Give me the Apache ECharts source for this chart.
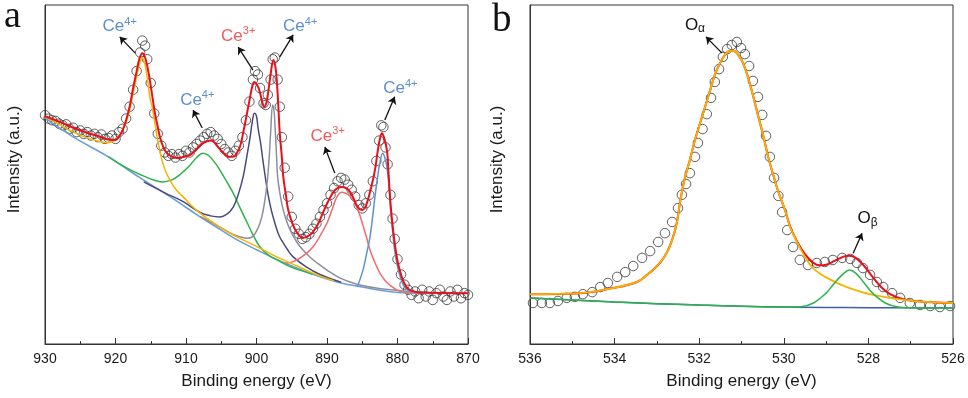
<!DOCTYPE html>
<html>
<head>
<meta charset="utf-8">
<script src="https://cdn.jsdelivr.net/npm/echarts@6/dist/echarts.min.js"></script>
<style>html,body{margin:0;padding:0;background:#fff}#chart{width:968px;height:398px}</style>
</head>
<body>
<div id="chart"></div>
<script>
// ---- panel a : Ce 3d ----
var ceDots = [
  [930,67.5],[929.5,66.5],[929,66.0],[928.5,65.8],[928,65.0],[927.5,64.5],[927,64.8],[926.5,63.5],[926,63.8],[925.5,62.5],
  [925,63.0],[924.5,62.0],[924,62.5],[923.5,61.5],[923,62.0],[922.5,61.0],[922,61.8],[921.5,60.5],[921,60.8],[920.5,61.5],
  [920,60.5],[919.5,62.5],[919,63.5],[918.5,66.5],[918,70.0],[917.5,75.0],[917,80.5],[916.5,86.0],[916.2,89.5],[915.8,88.0],
  [915.5,84.0],[915,77.0],[914.5,68.0],[914,62.0],[913.5,58.5],[913,56.5],[912.5,55.5],[912,56.0],[911.5,55.0],[911,56.0],
  [910.5,55.5],[910,57.0],[909.5,56.5],[909,58.0],[908.5,59.0],[908,60.0],[907.5,61.0],[907,62.0],[906.5,62.5],[906,61.5],
  [905.5,60.5],[905,59.0],[904.5,57.5],[904,56.5],[903.5,55.5],[903,57.0],[902.5,58.5],[902,61.0],[901.5,66.0],[901,71.5],
  [900.5,78.0],[900.2,80.5],[899.8,79.5],[899.5,75.5],[899,71.0],[898.7,70.5],[898.4,73.5],[898,78.0],[897.7,84.0],[897.4,84.5],
  [897,78.0],[896.7,70.0],[896.4,61.0],[896,52.0],[895.5,43.5],[895,37.5],[894.5,34.0],[894,32.5],[893.5,31.0],[893,31.5],
  [892.5,32.5],[892,34.0],[891.5,35.5],[891,37.5],[890.5,39.5],[890,41.5],[889.5,44.0],[889,46.0],[888.5,48.0],[888,49.0],
  [887.5,48.5],[887,47.0],[886.5,45.5],[886,43.5],[885.5,41.0],[885,40.0],[884.5,41.5],[884,44.0],[883.5,48.0],[883,54.0],
  [882.6,60.0],[882.3,64.5],[882,64.0],[881.7,58.0],[881.4,53.0],[881,44.0],[880.7,37.0],[880.4,31.0],[880,25.0],[879.5,20.5],
  [879,17.5],[878.5,16.0],[878,14.5],[877.5,15.5],[877,13.5],[876.5,16.0],[876,14.0],[875.5,15.5],[875,13.0],[874.5,15.0],
  [874,16.0],[873.5,14.0],[873,13.0],[872.5,15.5],[872,14.0],[871.5,16.0],[871,13.5],[870.5,15.0],[870,14.5]
];
var ceEnvelope = [
  [930,67.2],[928,65.6],[926,63.8],[924,62.3],[922,61.0],[921,60.3],[920,60.2],[919.5,61.2],[919,63.0],[918.5,66.0],
  [918,70.0],[917.5,75.5],[917,80.5],[916.6,84.2],[916.2,85.8],[915.8,84.5],[915.4,81.0],[915.1,77.5],[914.7,72.0],[914.4,68.0],
  [914,64.0],[913.7,61.1],[913.2,58.0],[912.7,56.3],[912,55.3],[911.3,54.9],[910.3,55.2],[909.4,55.8],[908.5,57.5],[907.8,59.0],
  [907,59.8],[906.4,60.0],[905.8,59.0],[905.2,57.5],[904.5,56.0],[903.8,55.2],[903.2,55.3],[902.8,56.3],[902.3,58.5],[901.9,62.2],
  [901.4,67.5],[900.9,72.9],[900.6,76.0],[900.3,77.3],[899.9,76.3],[899.6,74.9],[899.2,71.5],[898.9,69.9],[898.6,71.2],[898.3,74.9],
  [898,79.5],[897.6,83.8],[897.3,81.5],[897.1,77.0],[896.9,70.0],[896.7,62.2],[896.4,55.0],[896.2,49.3],[895.8,43.5],[895.5,39.5],
  [894.9,35.5],[894.3,33.0],[893.4,31.3],[892.7,31.8],[892,33.0],[891.3,35.3],[890.6,38.6],[889.9,41.8],[889.1,44.8],[888.5,46.0],
  [887.9,46.3],[887.3,46.0],[886.7,44.8],[886.2,42.8],[885.7,40.6],[885,39.5],[884.6,40.3],[884.2,42.5],[883.7,46.5],[883.2,51.3],
  [882.8,57.0],[882.5,60.5],[882.2,62.2],[881.9,60.8],[881.5,57.2],[881.3,51.5],[881.1,44.5],[880.8,37.0],[880.4,29.8],[880,24.5],
  [879.4,19.8],[878.8,17.0],[878.2,15.9],[876.8,15.2],[870,15.0]
];
var ceBackground = [
  [930,66.7],[926,61.1],[921,55.2],[916.5,49.0],[912,43.1],[908,37.5],[905,33.6],[903,31.0],[900,27.8],[896,23.9],
  [892,20.6],[888,18.0],[885,16.8],[882,15.7],[879,15.1],[875,15.0],[870,15.0]
];
var ce916 = [
  [930,67.0],[928,64.8],[926,62.5],[924,60.8],[922,59.6],[921.2,59.4],[920.3,59.8],[919.6,61.1],[918.9,63.5],[918.4,66.1],
  [917.9,69.8],[917.5,74.0],[917.1,78.0],[916.8,80.8],[916.5,83.2],[916.2,84.4],[915.8,82.3],[915.4,77.0],[915.1,72.5],[914.8,69.9],
  [914.4,65.0],[914.1,61.1],[913.7,57.0],[913.3,53.4],[912.8,50.5],[912.3,48.4],[911.4,45.5],[910.4,43.4],[909.2,40.8],[908,38.6],
  [906.5,36.3],[905.2,34.5],[903,31.8],[900,28.8],[898,26.6],[896.2,24.8],[894,22.8],[892,20.9],[889,18.6]
];
var ce907 = [
  [921,55.3],[918.5,52.0],[916.5,50.0],[914.5,48.3],[913.3,47.8],[912,48.4],[910.9,49.9],[909.5,52.6],[908.5,55.0],[907.6,56.3],
  [906.8,55.6],[905.8,53.2],[905.2,51.3],[904.2,47.8],[903.3,44.5],[902.3,40.0],[901.3,35.7],[900.4,31.8],[899.5,28.6],[898.3,26.2],
  [897.1,24.8],[895,22.6],[892,20.6]
];
var ce900 = [
  [916,47.8],[913,44.6],[910.4,42.0],[908,38.8],[906.5,37.8],[905.2,37.5],[904.2,38.3],[903.3,40.4],[902.6,44.0],[901.9,49.3],
  [901.4,55.0],[900.9,61.1],[900.6,65.5],[900.3,68.1],[900,67.2],[899.8,64.0],[899.4,59.0],[899.1,54.3],[898.7,48.5],[898.4,44.5],
  [897.9,39.5],[897.4,35.7],[896.8,32.0],[896.2,29.8],[895.5,27.5],[894.8,25.7],[893,22.8],[891,20.5],[888,18.2]
];
var ce897 = [
  [908,37.6],[905.2,34.5],[903.5,32.5],[902.3,31.6],[901.2,31.2],[900.4,32.0],[899.5,35.7],[899,40.0],[898.5,47.5],[898.2,55.0],
  [898,62.2],[897.7,70.5],[897.5,68.5],[897.4,65.2],[897.2,57.5],[897,49.3],[896.6,43.5],[896.2,39.5],[895.6,35.5],[895,32.7],
  [894.2,29.8],[893.4,27.7],[892.4,25.6],[891.4,23.9],[890,21.8],[888.2,19.5],[886,17.8],[883,16.5],[880,15.8],[876,15.3]
];
var ce888 = [
  [896,24.0],[895.7,23.9],[894.8,24.3],[893.8,25.4],[892.9,26.8],[892,28.6],[891,31.8],[890,35.7],[889.3,39.5],[888.6,43.4],
  [887.9,44.8],[887.1,44.2],[886.3,42.5],[885.6,39.5],[885,35.7],[884.4,31.5],[883.9,27.7],[883.2,24.0],[882.5,20.9],[881.8,18.8],
  [881.1,17.4],[880.2,16.1],[879.2,15.3],[877,15.0]
];
var ce882 = [
  [885.7,16.8],[884.9,21.8],[884.4,26.5],[883.9,31.6],[883.5,38.0],[883.2,43.4],[882.8,49.5],[882.5,53.4],[882.1,56.3],[881.8,55.0],
  [881.5,52.2],[881.2,46.5],[881,40.4],[880.7,33.5],[880.4,27.7],[880,22.8],[879.6,19.8],[878.9,16.5],[877.8,15.3],[876.5,15.0]
];
// tag position, arrow tail, arrow head, charge
var ceTags = [
  [919.4,93.8, 917.2,85.8, 919.4,90.6, '4+'],
  [908.4,72.0, 907.7,63.7, 909.0,69.0, '4+'],
  [902.6,90.9, 900.5,80.8, 902.6,87.6, '3+'],
  [893.8,93.8, 896.7,84.7, 894.8,91.2, '4+'],
  [889.9,61.4, 888.9,50.4, 890.3,58.1, '3+'],
  [879.6,75.5, 881.8,66.1, 880.4,72.9, '4+']
];

// ---- panel b : O 1s ----
var oDots = [
  [535.93,12.1],[535.72,12.1],[535.53,12.1],[535.34,12.7],[535.13,13.6],[534.94,13.9],[534.75,14.7],[534.53,15.3],[534.34,16.8],[534.16,18.0],
  [533.94,19.8],[533.75,21.2],[533.56,23.0],[533.35,25.4],[533.16,27.4],[532.97,30.1],[532.81,32.7],[532.64,36.0],[532.5,40.1],[532.41,44.0],
  [532.31,47.2],[532.22,50.4],[532.1,55.2],[532.03,59.3],[531.92,63.4],[531.82,67.8],[531.72,72.6],[531.63,77.3],[531.53,81.1],[531.44,84.7],
  [531.34,87.0],[531.23,88.2],[531.11,89.1],[531.01,87.3],[530.92,85.5],[530.82,82.0],[530.73,77.6],[530.61,72.9],[530.51,67.6],[530.42,61.4],
  [530.33,55.2],[530.23,49.0],[530.13,43.7],[530.04,38.9],[529.92,33.6],[529.78,28.6],[529.62,24.8],[529.43,23.3],[529.22,23.9],[529.03,24.2],
  [528.84,24.8],[528.62,25.4],[528.43,25.1],[528.27,23.9],[528.13,22.4],[527.96,20.4],[527.8,18.3],[527.65,16.8],[527.44,15.0],[527.25,13.6],
  [527.02,12.1],[526.78,11.5],[526.54,11.2],[526.31,10.9],[526.07,11.2]
];
var oAlpha = [
  [536,14.7],[534.82,15.0],[534.04,16.5],[533.47,18.3],[533.23,20.4],[532.93,23.9],[532.76,27.1],[532.64,30.7],[532.53,35.7],[532.45,42.0],
  [532.34,48.9],[532.22,54.3],[532.1,60.2],[531.98,65.1],[531.86,70.0],[531.74,74.9],[531.63,79.4],[531.51,82.8],[531.39,85.3],[531.27,86.5],
  [531.19,86.5],[531.08,85.3],[530.96,82.8],[530.84,78.4],[530.72,72.9],[530.6,67.0],[530.48,61.2],[530.37,55.2],[530.25,49.9],[530.13,44.9],
  [529.97,39.5],[529.85,34.5],[529.69,30.1],[529.5,25.7],[529.31,22.4],[528.98,19.5],[528.51,16.8],[527.89,14.5],[526.95,12.7],[526,12.1]
];
var oEnvelope = [
  [536,14.7],[534.82,15.0],[534.04,16.5],[533.47,18.3],[533.23,20.4],[532.93,23.9],[532.76,27.1],[532.64,30.7],[532.53,35.7],[532.45,42.0],
  [532.34,48.9],[532.22,54.3],[532.1,60.2],[531.98,65.1],[531.86,70.0],[531.74,74.9],[531.63,79.4],[531.51,82.8],[531.39,85.3],[531.27,86.5],
  [531.19,86.5],[531.08,85.3],[530.96,82.8],[530.84,78.4],[530.72,72.9],[530.6,67.0],[530.48,61.2],[530.37,55.2],[530.25,49.9],[530.13,44.9],
  [529.97,39.5],[529.85,34.6],[529.69,30.3],[529.5,26.5],[529.31,24.0],[529.15,23.2],[529,23.4],[528.8,24.5],[528.6,25.7],[528.45,26.0],
  [528.3,25.4],[528.1,23.0],[527.9,19.8],[527.7,16.8],[527.5,14.8],[527.2,13.3],[526.9,12.7],[526.5,12.3],[526,12.1]
];
var oBeta = [
  [536,13.6],[535,13.0],[534,12.4],[533,11.9],[532,11.5],[531,11.1],[530,10.9],[529.6,11.0],[529.3,12.1],[529,15.0],
  [528.8,18.0],[528.6,20.6],[528.45,21.8],[528.3,20.9],[528.1,18.0],[527.9,15.0],[527.6,12.1],[527.3,10.9],[527,10.7],[526,10.6]
];
var oBackground = [[536,13.6],[534,12.4],[532,11.5],[530,10.9],[528,10.7],[526,10.6]];
var oTags = [
  [532.10,94.1, 531.46,85.8, 531.84,90.6, 'α'],
  [528.02,37.0, 528.36,26.8, 528.15,32.7, 'β']
];

var FONT = 'Liberation Sans';
var chargeColor = {'4+': '#5b8fcf', '3+': '#f05a5a'};

function xAxisFor(idx, lo, hi, step) {
  return {
    gridIndex: idx, type: 'value', inverse: true, min: lo, max: hi, interval: step,
    name: 'Binding energy (eV)', nameLocation: 'middle', nameGap: 29,
    nameTextStyle: {fontFamily: FONT, fontSize: 17, color: '#1a1a1a'},
    axisLine: {show: true, lineStyle: {color: '#333', width: 1}},
    axisTick: {show: true, inside: true, length: 6, lineStyle: {color: '#333'}},
    minorTick: {show: true, splitNumber: 2, length: 3, lineStyle: {color: '#333'}},
    axisLabel: {fontFamily: FONT, fontSize: 14, color: '#1a1a1a', margin: 8},
    splitLine: {show: false}
  };
}
function yAxisFor(idx, gap) {
  return {
    gridIndex: idx, type: 'value', min: 0, max: 100,
    name: 'Intensity (a.u.)', nameLocation: 'middle', nameGap: gap,
    nameTextStyle: {fontFamily: FONT, fontSize: 17, color: '#1a1a1a', padding: [0, 0, 0, 30]},
    axisLine: {show: true, lineStyle: {color: '#333'}},
    axisTick: {show: false}, axisLabel: {show: false}, splitLine: {show: false}
  };
}
function curve(idx, data, color, width) {
  return {
    type: 'line', xAxisIndex: idx, yAxisIndex: idx, data: data, showSymbol: false, symbol: 'none',
    smooth: 0.4, lineStyle: {color: color, width: width || 1.5}, silent: true
  };
}
function dots(idx, data, tags, richFor) {
  return {
    type: 'scatter', xAxisIndex: idx, yAxisIndex: idx, data: data, symbol: 'circle', symbolSize: 9.5,
    itemStyle: {color: 'rgba(0,0,0,0)', borderColor: '#3a3a3a', borderWidth: 1}, silent: true,
    markLine: {
      silent: true, symbol: ['none', 'arrow'], symbolSize: 7, label: {show: false},
      lineStyle: {color: '#111', width: 1.3, type: 'solid'},
      data: tags.map(function (t) { return [{coord: [t[2], t[3]]}, {coord: [t[4], t[5]]}]; })
    },
    markPoint: {
      silent: true, symbol: 'circle', symbolSize: 1, itemStyle: {color: 'rgba(0,0,0,0)'},
      data: tags.map(function (t) { return {coord: [t[0], t[1]], label: richFor(t[6])}; })
    }
  };
}
function ceLabel(q) {
  var c = chargeColor[q];
  return {
    show: true, position: 'inside', formatter: '{m|Ce}{s|' + q + '}',
    rich: {
      m: {fontFamily: FONT, fontSize: 17, lineHeight: 20, color: c},
      s: {fontFamily: FONT, fontSize: 11, lineHeight: 12, verticalAlign: 'top', color: c}
    }
  };
}
function oLabel(g) {
  return {
    show: true, position: 'inside', formatter: '{m|O}{s|' + g + '}',
    rich: {
      m: {fontFamily: FONT, fontSize: 17, lineHeight: 20, color: '#111'},
      s: {fontFamily: FONT, fontSize: 12, lineHeight: 12, verticalAlign: 'bottom', color: '#111'}
    }
  };
}

var chart = echarts.init(document.getElementById('chart'), null, {renderer: 'canvas'});
chart.setOption({
  animation: false,
  backgroundColor: '#fff',
  grid: [
    {left: 45, top: 5, width: 423, height: 339, show: true, borderColor: '#333', borderWidth: 1},
    {left: 530, top: 5, width: 423, height: 339, show: true, borderColor: '#333', borderWidth: 1}
  ],
  xAxis: [xAxisFor(0, 870, 930, 10), xAxisFor(1, 526, 536, 2)],
  yAxis: [yAxisFor(0, 22), yAxisFor(1, 24)],
  graphic: [
    {type: 'text', x: 4, y: 17, style: {text: 'a', font: '38px "Liberation Serif"', fill: '#111', verticalAlign: 'middle', textVerticalAlign: 'middle'}},
    {type: 'text', x: 492, y: 21, style: {text: 'b', font: '39px "Liberation Serif"', fill: '#111', verticalAlign: 'middle', textVerticalAlign: 'middle'}}
  ],
  series: [
    dots(0, ceDots, ceTags, ceLabel),
    curve(0, ceBackground, '#6a9fd8', 1.6),
    curve(0, ce907, '#2db34a'),
    curve(0, ce900, '#4a4a7c'),
    curve(0, ce897, '#8e8e9c'),
    curve(0, ce888, '#f26b6b'),
    curve(0, ce882, '#5b93d3'),
    curve(0, ce916, '#f5b400'),
    curve(0, ceEnvelope, '#e8101a', 2),
    dots(1, oDots, oTags, oLabel),
    curve(1, oBackground, '#3f5fa8'),
    curve(1, oEnvelope, '#e8101a', 2),
    curve(1, oAlpha, '#f5b400', 1.8),
    curve(1, oBeta, '#2db34a')
  ]
});
</script>
</body>
</html>
